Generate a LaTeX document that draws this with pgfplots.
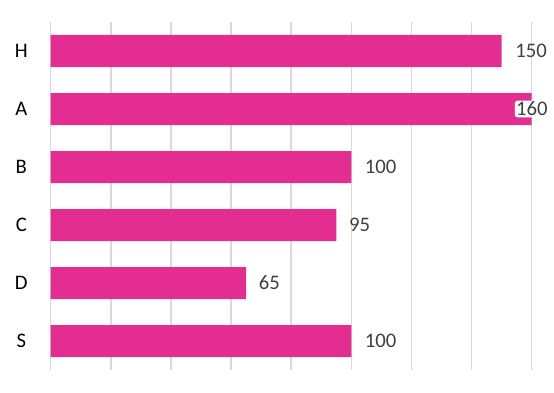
\documentclass[border=0pt]{standalone}
\usepackage{pgfplots}
\pgfplotsset{compat=1.18}
\usepackage{fontspec}
\setmainfont{Carlito}
\definecolor{barpink}{RGB}{227,45,145}
\definecolor{gridgray}{RGB}{217,217,217}
\definecolor{labelgray}{RGB}{64,64,64}
\begin{document}
\begin{tikzpicture}
\begin{axis}[
  scale only axis,
  width=360.75pt, height=261pt,
  xmin=0, xmax=160,
  ymin=-0.5, ymax=5.5,
  xtick={0,20,...,160},
  xticklabels={},
  ytick={0,1,2,3,4,5},
  yticklabels={S,D,C,B,A,H},
  xmajorgrids,
  grid style={color=gridgray, line width=1.1pt},
  axis line style={draw=none},
  major tick length=0pt,
  yticklabel style={anchor=center, font=\fontsize{15.5}{18}\selectfont, text=black, xshift=-22pt},
  clip=false,
]
\addplot[xbar, bar width=24pt, fill=barpink, draw=none] coordinates {
  (100,0) (65,1) (95,2) (100,3) (160,4) (150,5)
};
% data labels, placed just right of the bar ends
\addplot[draw=none, mark=none, point meta=explicit symbolic,
  nodes near coords,
  nodes near coords style={anchor=west, inner sep=1pt, font=\fontsize{15.5}{18}\selectfont, text=labelgray}]
  coordinates {
  (104,0) [100]
  (68.7,1) [65]
  (98.7,2) [95]
  (104,3) [100]
  (154,5) [150]
};
% the label that overlaps its bar, on a white halo
\addplot[draw=none, mark=none, point meta=explicit symbolic,
  nodes near coords,
  nodes near coords style={anchor=west, inner sep=1pt, fill=white, rounded corners=2pt, font=\fontsize{15.5}{18}\selectfont, text=labelgray}]
  coordinates {
  (154.3,4) [160]
};
\end{axis}
\pgfresetboundingbox
\path ([xshift=-38pt,yshift=-16.5pt]current axis.south west) rectangle ([xshift=16.7pt,yshift=16.5pt]current axis.north east);
\end{tikzpicture}
\end{document}
